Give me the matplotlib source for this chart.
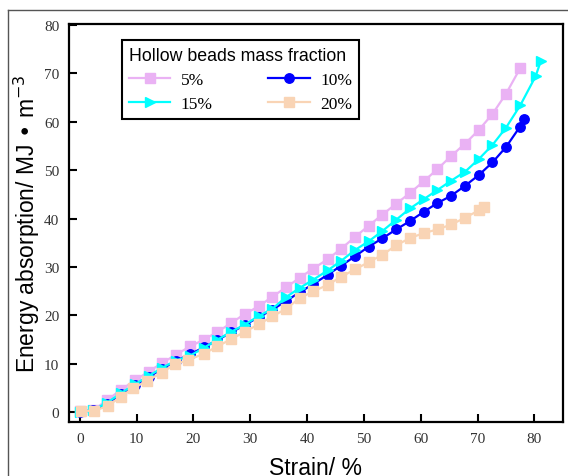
import matplotlib
matplotlib.use("Agg")
import matplotlib.pyplot as plt
from matplotlib.lines import Line2D

plt.rcParams['mathtext.fontset'] = 'dejavusans'

# strain (%) and energy absorption (MJ/m^3)
strain_5 = [0, 2.4, 4.8, 7.3, 9.7, 12.1, 14.5, 16.9, 19.4, 21.8, 24.2, 26.6, 29.0, 31.5,
            33.9, 36.3, 38.7, 41.1, 43.6, 46.0, 48.4, 50.8, 53.2, 55.7, 58.1, 60.5, 62.9,
            65.3, 67.8, 70.2, 72.6, 75.0, 77.5]
energy_5 = [0.3, 0.5, 2.5, 4.7, 6.6, 8.4, 10.2, 11.9, 13.6, 15.0, 16.6, 18.4, 20.3, 21.9,
            23.9, 25.8, 27.8, 29.7, 31.6, 33.8, 36.2, 38.5, 40.8, 43.1, 45.3, 47.7, 50.2,
            52.9, 55.5, 58.3, 61.6, 65.8, 71.1]

strain_10 = [0, 2.4, 4.8, 7.3, 9.7, 12.1, 14.5, 16.9, 19.4, 21.8, 24.2, 26.6, 29.0, 31.5,
             33.9, 36.3, 38.7, 41.1, 43.6, 46.0, 48.4, 50.8, 53.2, 55.7, 58.1, 60.5, 62.9,
             65.3, 67.8, 70.2, 72.6, 75.0, 77.4, 78.1]
energy_10 = [0.1, 0.4, 1.8, 3.8, 5.6, 7.3, 9.0, 10.6, 12.0, 13.4, 14.9, 16.5, 18.0, 19.7,
             21.2, 23.0, 24.8, 26.5, 28.4, 30.3, 32.2, 34.2, 35.9, 37.8, 39.5, 41.4, 43.2,
             44.7, 46.8, 49.0, 51.6, 54.8, 58.9, 60.5]

strain_15 = [0, 2.4, 4.8, 7.3, 9.7, 12.1, 14.5, 16.9, 19.4, 21.8, 24.2, 26.6, 29.0, 31.5,
             33.9, 36.3, 38.7, 41.1, 43.6, 46.0, 48.4, 50.8, 53.2, 55.7, 58.1, 60.5, 62.9,
             65.3, 67.8, 70.2, 72.6, 75.0, 77.5, 80.2, 81.1]
energy_15 = [0.0, 0.5, 2.0, 4.0, 5.8, 7.5, 9.2, 10.7, 11.7, 13.3, 15.0, 16.6, 18.1, 19.9,
             21.4, 23.8, 25.7, 27.4, 29.3, 31.3, 33.5, 35.3, 37.4, 39.8, 42.1, 44.0, 45.9,
             47.8, 49.7, 52.3, 55.2, 58.8, 63.4, 69.4, 72.5]

strain_20 = [0.2, 2.5, 4.9, 7.2, 9.4, 11.9, 14.4, 16.7, 19.1, 21.8, 24.2, 26.6, 29.0, 31.5,
             33.9, 36.3, 38.7, 41.1, 43.6, 46.0, 48.4, 50.8, 53.2, 55.7, 58.1, 60.5, 63.0,
             65.4, 67.8, 70.2, 71.1]
energy_20 = [0.3, 0.3, 1.3, 3.2, 5.0, 6.5, 8.2, 9.9, 10.8, 12.1, 13.6, 15.1, 16.6, 18.2,
             19.8, 21.4, 23.6, 25.0, 26.3, 28.0, 29.5, 31.0, 32.5, 34.5, 36.0, 37.0, 37.8,
             38.8, 40.2, 41.7, 42.5]

labels = ['5%', '10%', '15%', '20%']
colors = ['#EAB2F4', '#0000FF', '#00FFFF', '#F9D4B5']
markers = ['s', 'o', '>', 's']
sizes = [7, 6.8, 7.8, 7]

fig = plt.figure(figsize=(5.68, 4.77), dpi=100)
ax = fig.add_axes([0.1215, 0.1132, 0.8695, 0.8344])

# screenshot frame
fig.add_artist(Line2D([0.014, 1.0], [0.977, 0.977], color='#555555', lw=1.0))
fig.add_artist(Line2D([0.014, 0.014], [0.0, 0.977], color='#555555', lw=1.0))

series = [(strain_5, energy_5), (strain_10, energy_10), (strain_15, energy_15), (strain_20, energy_20)]
handles = []
for (x, y), lab, c, m, ms in zip(series, labels, colors, markers, sizes):
    h, = ax.plot(x, y, color=c, marker=m, markersize=ms, markeredgecolor=c,
                 linewidth=1.6, label=lab)
    handles.append(h)

ax.set_xlim(-1.9, 85)
ax.set_ylim(-2, 80.2)
ax.set_xticks(range(0, 81, 10))
ax.set_yticks(range(0, 81, 10))
ax.tick_params(direction='in', length=6, width=1.5, pad=7, labelsize=11,
               labelcolor='#333333')
for lab in ax.get_xticklabels() + ax.get_yticklabels():
    lab.set_fontfamily('Liberation Serif')
for sp in ax.spines.values():
    sp.set_linewidth(1.6)

ax.set_xlabel('Strain/ %', fontsize=16.5, family='Liberation Sans')
ax.xaxis.set_label_coords(0.5, -0.085)
ax.set_ylabel('Energy absorption/ MJ \u2022 m$^{-3}$', fontsize=16.5, family='Liberation Sans')
ax.yaxis.set_label_coords(-0.055, 0.5)

order = [0, 2, 1, 3]
leg = ax.legend([handles[i] for i in order], [labels[i] for i in order], ncol=2,
                loc='upper left', bbox_to_anchor=(0.107, 0.96), borderaxespad=0,
                title='Hollow beads mass fraction', alignment='left',
                prop={'family': 'Liberation Serif', 'size': 12.5},
                title_fontproperties={'family': 'Liberation Sans', 'size': 12.8},
                handlelength=2.4, columnspacing=3.2, handletextpad=0.6,
                labelspacing=0.45, borderpad=0.4, fancybox=False, framealpha=1,
                edgecolor='black')
leg.get_frame().set_linewidth(1.5)

fig.savefig('out.png', dpi=100)
